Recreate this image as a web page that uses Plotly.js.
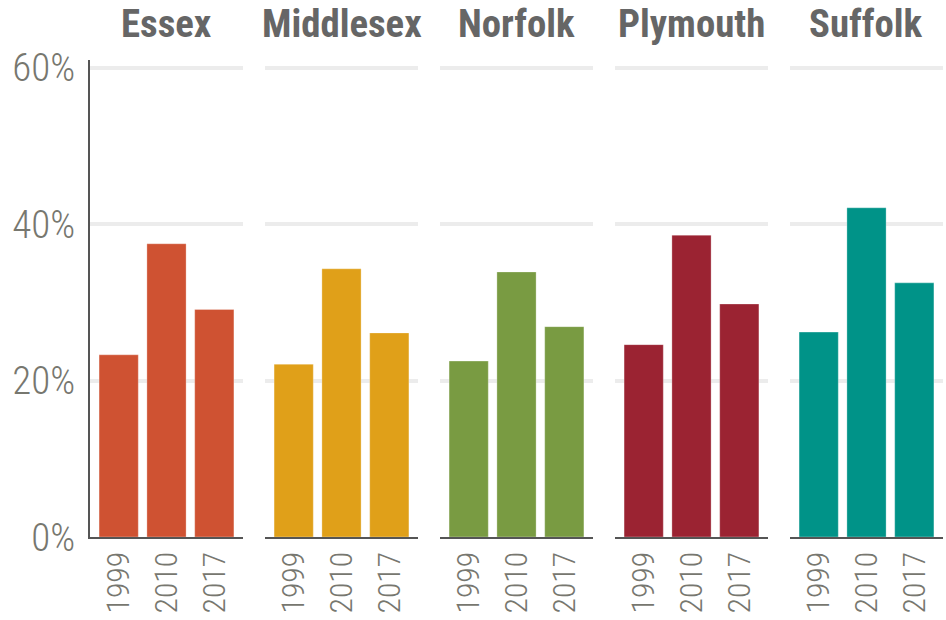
<!DOCTYPE html>
<html>
<head>
<meta charset="utf-8">
<script src="https://cdn.plot.ly/plotly-3.0.1.min.js"></script>
<style>html,body{margin:0;padding:0;background:#fff;}#chart{width:946px;height:620px;}</style>
</head>
<body>
<div id="chart"></div>
<script>
const counties = ['Essex', 'Middlesex', 'Norfolk', 'Plymouth', 'Suffolk'];
const years = ['1999', '2010', '2017'];
const essex = [23.3, 37.5, 29.1];
const middlesex = [22.1, 34.3, 26.1];
const norfolk = [22.5, 33.9, 26.9];
const plymouth = [24.6, 38.6, 29.8];
const suffolk = [26.2, 42.1, 32.5];
const yTicks = [0, 20, 40, 60];
const colors = ['#cf5232', '#e0a019', '#799b42', '#9b2332', '#009388'];

const seriesValues = [essex, middlesex, norfolk, plymouth, suffolk];
const FONT = '"Roboto Condensed", "Liberation Sans Narrow", "Arial Narrow", "Nimbus Sans Narrow", "DejaVu Sans Condensed", Roboto, sans-serif';

// size a font so that a sample string spans a target width (capped)
const cv = document.createElement('canvas').getContext('2d');
function fitSize(text, weight, target, maxSize) {
  cv.font = weight + ' 100px ' + FONT;
  const w = cv.measureText(text).width;
  return Math.min(maxSize, Math.floor(100 * target / w * 10) / 10);
}
const tickSizeX = fitSize('1999', '300', 62, 39);
const tickSizeY = fitSize('60%', '300', 68, 39);
const titleSize = fitSize('Middlesex', 'bold', 160, 39);

const plotW = 853, panelW = 153, step = 175;
const data = [];
const layout = {
  width: 946, height: 620,
  margin: {l: 90, r: 3, t: 60, b: 83, pad: 0},
  paper_bgcolor: '#fff', plot_bgcolor: '#fff',
  showlegend: false,
  bargap: 0.18,
  annotations: []
};

counties.forEach((c, i) => {
  const sfx = i === 0 ? '' : String(i + 1);
  data.push({
    type: 'bar',
    x: years,
    y: seriesValues[i],
    name: c,
    xaxis: 'x' + sfx,
    yaxis: 'y' + sfx,
    marker: {color: colors[i], line: {color: 'rgba(255,255,255,0.6)', width: 0.5}},
    hoverinfo: 'x+y'
  });
  const d0 = (i * step) / plotW, d1 = (i * step + panelW) / plotW;
  layout['xaxis' + sfx] = {
    domain: [d0, d1],
    anchor: 'y' + sfx,
    type: 'category',
    range: [-0.6, 2.6],
    showgrid: false,
    zeroline: false,
    showline: true,
    linecolor: '#555',
    linewidth: 2,
    ticks: '',
    tickangle: -90,
    tickfont: {family: FONT, size: tickSizeX, color: '#77776f', weight: 300}
  };
  layout['yaxis' + sfx] = {
    anchor: 'x' + sfx,
    range: [0, 61],
    tickvals: yTicks,
    ticktext: yTicks.map(v => v + '%'),
    showticklabels: i === 0,
    showgrid: true,
    gridcolor: '#ececec',
    gridwidth: 4,
    zeroline: false,
    showline: i === 0,
    linecolor: '#555',
    linewidth: 2,
    ticks: i === 0 ? 'outside' : '',
    ticklen: 5,
    tickcolor: 'rgba(0,0,0,0)',
    tickfont: {family: FONT, size: tickSizeY, color: '#77776f', weight: 300}
  };
  if (i > 0) layout['yaxis' + sfx].matches = 'y';
  layout.annotations.push({
    text: '<b>' + c + '</b>',
    xref: 'paper', yref: 'paper',
    x: (d0 + d1) / 2, y: 1,
    xanchor: 'center', yanchor: 'bottom',
    yshift: 12,
    showarrow: false,
    font: {family: FONT, size: titleSize, color: '#666666'}
  });
});

Plotly.newPlot('chart', data, layout, {displayModeBar: false, staticPlot: true});
</script>
</body>
</html>
